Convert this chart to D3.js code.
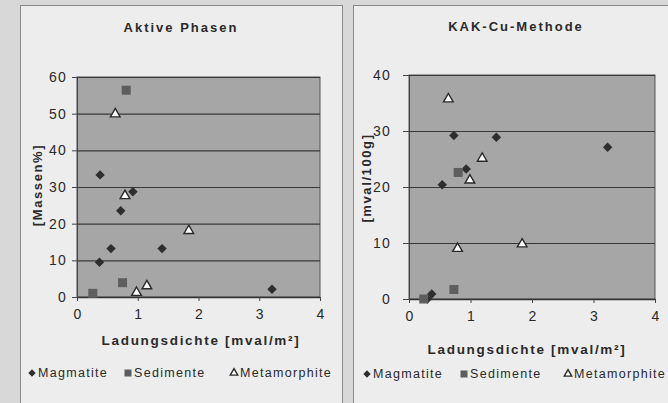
<!DOCTYPE html>
<html>
<head>
<meta charset="utf-8">
<script src="https://cdn.jsdelivr.net/npm/d3@7"></script>
<style>
  body { margin: 0; background: #d8d8d8; }
  svg { display: block; }
  text { font-family: "Liberation Sans", Arial, sans-serif; fill: #2a2a2a; }
</style>
</head>
<body>
<svg id="chart" width="668" height="403"></svg>
<script>
// shared x axis
var xTicks = [0, 1, 2, 3, 4];
var seriesNames = ["Magmatite", "Sedimente", "Metamorphite"];

// Aktive Phasen [Massen%]
var aktivYTicks = [0, 10, 20, 30, 40, 50, 60];
var aktivMagX = [0.38, 0.92, 0.72, 0.56, 0.37, 1.40, 3.21];
var aktivMagY = [33.3, 28.7, 23.5, 13.2, 9.5, 13.2, 2.1];
var aktivSedX = [0.81, 0.75, 0.26];
var aktivSedY = [56.4, 3.9, 1.0];
var aktivMetX = [0.63, 0.79, 1.84, 1.15, 0.98];
var aktivMetY = [49.9, 27.6, 18.1, 3.0, 1.2];

// KAK-Cu-Methode [mval/100g]
var kakYTicks = [0, 10, 20, 30, 40];
var kakMagX = [0.73, 1.42, 3.23, 0.93, 0.54, 0.37, 0.30];
var kakMagY = [29.2, 28.9, 27.1, 23.2, 20.4, 0.9, 0.0];
var kakSedX = [0.80, 0.73, 0.24];
var kakSedY = [22.6, 1.7, 0.0];
var kakMetX = [0.64, 1.19, 0.99, 0.79, 1.84];
var kakMetY = [35.7, 25.1, 21.2, 9.0, 9.8];

function zip(xs, ys) {
  return xs.map(function(x, i) { return {x: x, y: ys[i]}; });
}

var svg = d3.select("#chart");

// marker shapes
function marker(sel, kind, size) {
  if (kind == 0) {
    sel.append("path")
      .attr("d", d3.symbol().type(d3.symbolSquare).size(size * size * 0.55)())
      .attr("transform", "rotate(45)")
      .attr("fill", "#2e2e2e");
  } else if (kind == 1) {
    sel.append("rect")
      .attr("x", -size / 2).attr("y", -size / 2)
      .attr("width", size).attr("height", size)
      .attr("fill", "#5e5e5e");
  } else {
    sel.append("path")
      .attr("d", d3.symbol().type(d3.symbolTriangle).size(size * size * 0.5)())
      .attr("fill", "#ffffff")
      .attr("stroke", "#2a2a2a")
      .attr("stroke-width", 1.4);
  }
}

/* drawPanel(cfg)
  - frame, plot area, grid, axes, points and legend of one chart
*/
function drawPanel(cfg) {
  var g = svg.append("g");

  g.append("rect")
    .attr("x", cfg.frame[0] + 0.5).attr("y", cfg.frame[1] + 0.5)
    .attr("width", cfg.frame[2]).attr("height", cfg.frame[3])
    .attr("fill", "#ededed")
    .attr("stroke", "#8a8a8a");

  var x = d3.scaleLinear().domain([0, 4]).range([cfg.left, cfg.right]);
  var y = d3.scaleLinear().domain([0, d3.max(cfg.yTicks)]).range([cfg.bottom, cfg.top]);

  g.append("rect")
    .attr("x", cfg.left).attr("y", cfg.top)
    .attr("width", cfg.right - cfg.left).attr("height", cfg.bottom - cfg.top)
    .attr("fill", "#a6a6a6")
    .attr("stroke", "#555");

  //gridlines, also drawn as the y ticks
  g.append("g")
    .attr("transform", "translate(" + cfg.left + ",0)")
    .call(d3.axisLeft(y).tickValues(cfg.yTicks).tickFormat("")
      .tickSize(-(cfg.right - cfg.left)).tickSizeOuter(0))
    .call(function(a) {
      a.select(".domain").attr("stroke", "#444");
      a.selectAll(".tick line").attr("stroke", "#383838").attr("stroke-width", 1.1);
    });
  g.append("g")
    .attr("transform", "translate(" + cfg.left + ",0)")
    .call(d3.axisLeft(y).tickValues(cfg.yTicks).tickSize(cfg.yTickLen)
      .tickPadding(cfg.yPad).tickSizeOuter(0))
    .call(function(a) {
      a.select(".domain").remove();
      a.selectAll(".tick line").attr("stroke", "#444");
      a.selectAll("text").attr("font-size", 14).style("letter-spacing", "1.2px")
        .attr("fill", "#2a2a2a");
    });

  g.append("g")
    .attr("transform", "translate(0," + cfg.bottom + ")")
    .call(d3.axisBottom(x).tickValues(xTicks).tickFormat(d3.format("d"))
      .tickSize(4).tickPadding(8).tickSizeOuter(0))
    .call(function(a) {
      a.select(".domain").attr("stroke", "#333").attr("stroke-width", 1.3);
      a.selectAll(".tick line").attr("stroke", "#444");
      a.selectAll("text").attr("font-size", 14).attr("fill", "#2a2a2a");
    });

  g.append("text")
    .attr("x", cfg.titleX).attr("y", cfg.titleY)
    .attr("text-anchor", "middle")
    .attr("font-size", 13).attr("font-weight", "bold").style("letter-spacing", "2px")
    .text(cfg.title);

  g.append("text")
    .attr("transform", "translate(" + cfg.yLabelX + "," + cfg.yLabelY + ") rotate(-90)")
    .attr("text-anchor", "middle")
    .attr("font-size", 13).attr("font-weight", "bold").style("letter-spacing", "1.6px")
    .text(cfg.yLabel);

  g.append("text")
    .attr("x", cfg.xLabelX).attr("y", cfg.xLabelY)
    .attr("text-anchor", "middle")
    .attr("font-size", 13.5).attr("font-weight", "bold").style("letter-spacing", "1.7px")
    .text("Ladungsdichte [mval/m²]");

  cfg.series.forEach(function(s, k) {
    g.append("g").selectAll("g")
      .data(s)
      .enter()
      .append("g")
        .attr("transform", function(d) {
          return "translate(" + x(d.x) + "," + y(d.y) + ")";
        })
        .each(function() { marker(d3.select(this), k, 9); });
  });

  //legend
  var lg = g.append("g");
  var pos = cfg.legendX;
  seriesNames.forEach(function(name, k) {
    var m = lg.append("g")
      .attr("transform", "translate(" + pos[k] + "," + (cfg.legendY - 4) + ")");
    marker(m, k, 7);
    lg.append("text")
      .attr("x", pos[k] + 6).attr("y", cfg.legendY)
      .attr("font-size", 12.5).style("letter-spacing", "1.3px")
      .text(name);
  });
}

drawPanel({
  frame: [20, 5, 322, 420],
  left: 77, right: 320, top: 77, bottom: 297,
  yTicks: aktivYTicks, yTickLen: 5, yPad: 5,
  title: "Aktive Phasen", titleX: 181, titleY: 32,
  yLabel: "[Massen%]", yLabelX: 42, yLabelY: 185,
  xLabelX: 201, xLabelY: 345,
  legendX: [32, 128, 234], legendY: 377,
  series: [zip(aktivMagX, aktivMagY), zip(aktivSedX, aktivSedY), zip(aktivMetX, aktivMetY)]
});

drawPanel({
  frame: [353, 5, 330, 420],
  left: 409, right: 655, top: 75, bottom: 299,
  yTicks: kakYTicks, yTickLen: 6, yPad: 12,
  title: "KAK-Cu-Methode", titleX: 516, titleY: 31,
  yLabel: "[mval/100g]", yLabelX: 371, yLabelY: 178,
  xLabelX: 527, xLabelY: 354,
  legendX: [367, 464, 568], legendY: 378,
  series: [zip(kakMagX, kakMagY), zip(kakSedX, kakSedY), zip(kakMetX, kakMetY)]
});
</script>
</body>
</html>
